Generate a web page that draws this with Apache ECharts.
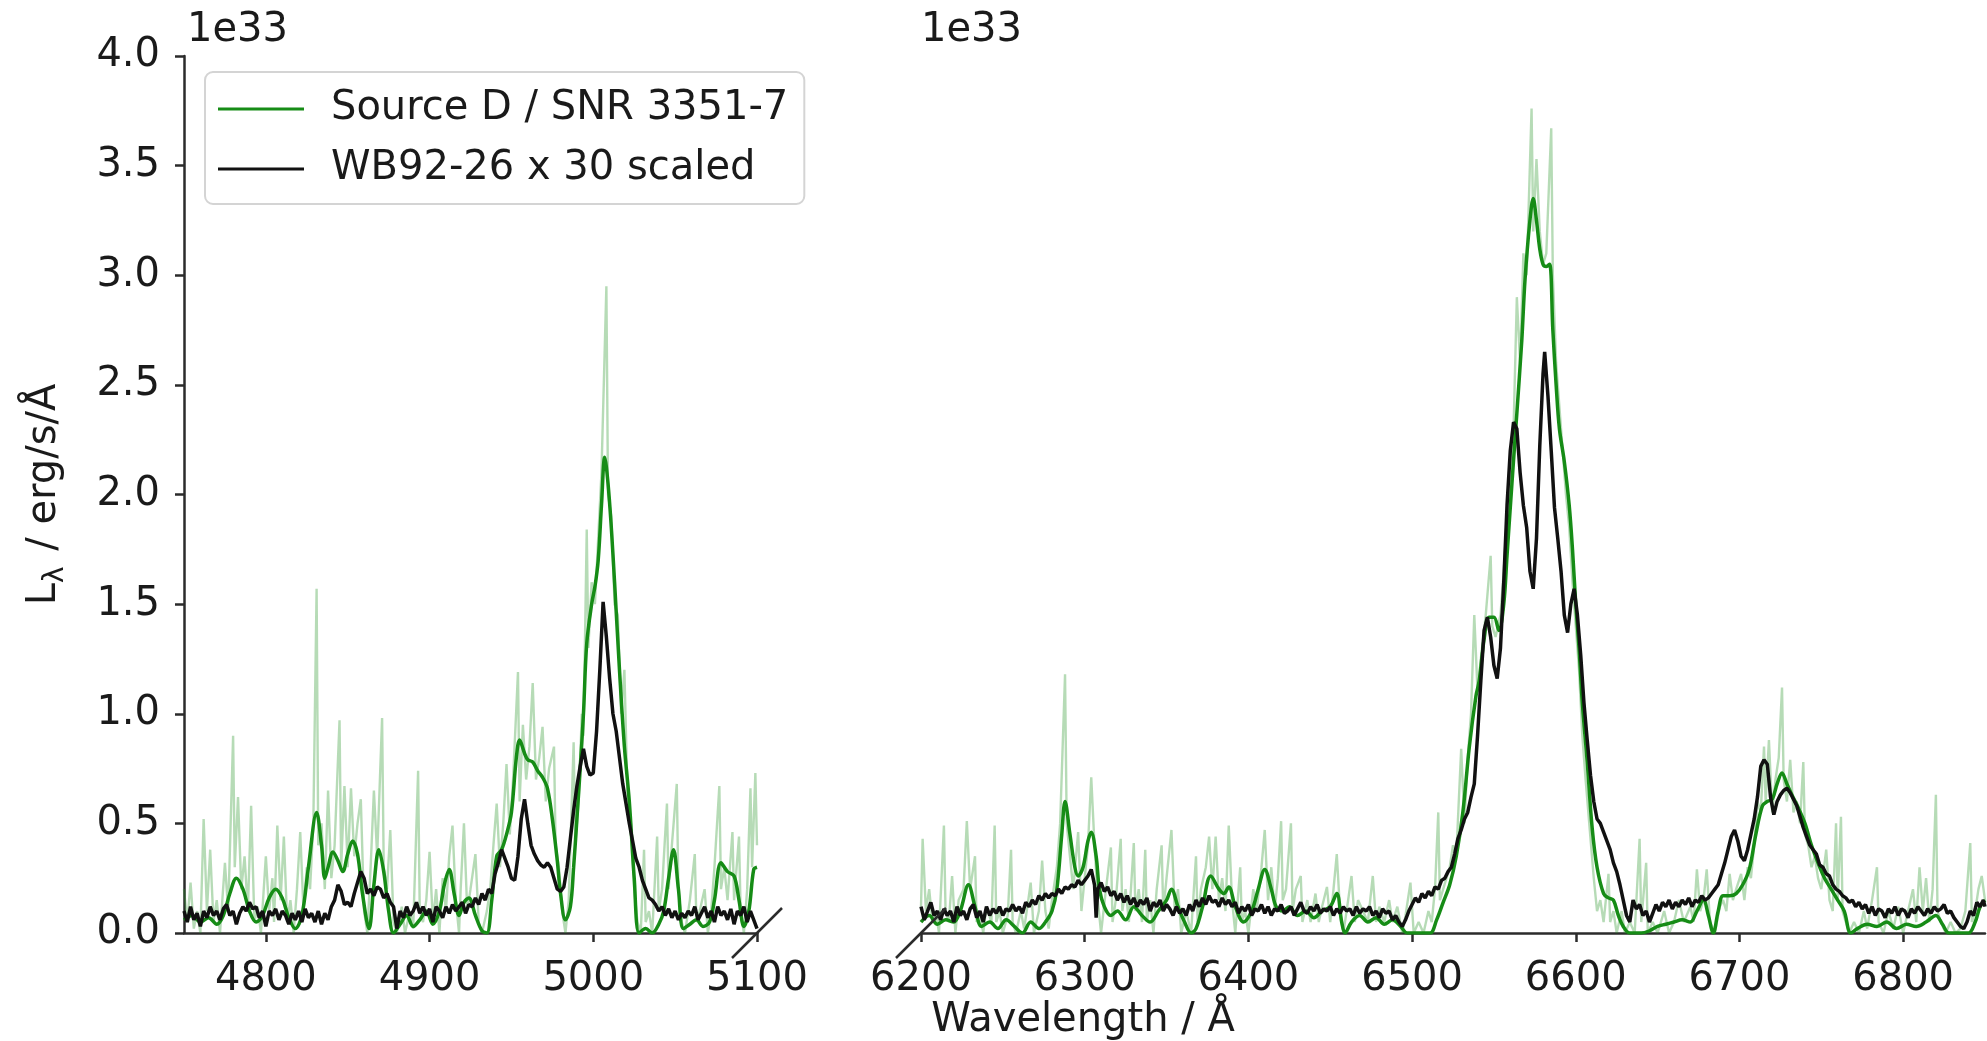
<!DOCTYPE html>
<html>
<head>
<meta charset="utf-8">
<script src="https://cdn.jsdelivr.net/npm/echarts@6.0.0/dist/echarts.min.js"></script>
<style>html,body{margin:0;padding:0;background:#fff;}#c{width:1987px;height:1041px;}</style>
</head>
<body>
<div id="c"></div>
<script>
// ---- data (luminance in units of 1e33 erg/s/Å, wavelength in Å) ----
const ticksLeft = [4800, 4900, 5000, 5100];
const ticksRight = [6200, 6300, 6400, 6500, 6600, 6700, 6800];

const rawLeft = [[4750,0.2],[4752,0.05],[4754,0.23],[4756,0.02],[4758,0.1],[4760,0.0],[4762,0.52],[4764,0.1],[4766,0.38],[4768,0.05],[4770,0.15],[4772,0.0],[4775,0.32],[4777,0.1],[4780,0.9],[4781,0.3],[4783,0.62],[4785,0.2],[4787,0.35],[4789,0.1],[4791,0.58],[4793,0.05],[4795,0.12],[4797,0.0],[4800,0.35],[4802,0.1],[4804,0.25],[4805,0.05],[4807,0.49],[4809,0.15],[4811,0.44],[4813,0.05],[4815,0.15],[4817,0.0],[4819,0.2],[4821,0.46],[4823,0.1],[4825,0.3],[4827,0.2],[4829,0.5],[4831,1.57],[4832,0.4],[4834,0.5],[4836,0.2],[4838,0.65],[4840,0.25],[4842,0.4],[4845,0.97],[4846,0.3],[4848,0.67],[4850,0.3],[4852,0.66],[4854,0.35],[4856,0.5],[4858,0.61],[4860,0.1],[4862,0.0],[4864,0.3],[4866,0.65],[4868,0.35],[4871,0.98],[4872,0.3],[4874,0.2],[4876,0.47],[4878,0.05],[4880,0.0],[4883,0.12],[4885,0.0],[4888,0.1],[4890,0.02],[4893,0.74],[4894,0.1],[4896,0.05],[4898,0.15],[4900,0.37],[4902,0.05],[4904,0.2],[4906,0.0],[4908,0.25],[4910,0.1],[4912,0.35],[4914,0.49],[4916,0.15],[4918,0.0],[4919,0.2],[4921,0.5],[4923,0.1],[4925,0.2],[4928,0.36],[4930,0.05],[4932,0.0],[4935,0.1],[4937,0.2],[4939,0.4],[4941,0.59],[4943,0.3],[4945,0.5],[4947,0.77],[4949,0.45],[4951,0.7],[4954,1.19],[4955,0.6],[4957,0.95],[4959,0.7],[4961,0.85],[4963,1.14],[4965,0.7],[4967,0.8],[4969,0.94],[4971,0.6],[4973,0.75],[4976,0.85],[4977,0.4],[4979,0.3],[4981,0.1],[4983,0.0],[4985,0.15],[4988,0.87],[4989,0.4],[4991,0.6],[4993,1.0],[4994,0.9],[4996,1.84],[4997,1.3],[4999,1.6],[5001,1.5],[5003,1.8],[5005,2.1],[5008,2.95],[5009,2.0],[5011,1.9],[5013,1.5],[5015,1.45],[5017,1.0],[5019,1.2],[5021,0.6],[5023,0.5],[5025,0.2],[5027,0.05],[5029,0.0],[5031,0.38],[5032,0.05],[5034,0.1],[5036,0.0],[5039,0.44],[5040,0.1],[5042,0.2],[5045,0.59],[5046,0.2],[5048,0.4],[5051,0.68],[5052,0.2],[5054,0.05],[5056,0.0],[5059,0.15],[5062,0.36],[5063,0.05],[5065,0.1],[5068,0.2],[5070,0.0],[5072,0.1],[5074,0.3],[5077,0.67],[5078,0.2],[5080,0.3],[5082,0.15],[5085,0.46],[5086,0.15],[5089,0.44],[5090,0.1],[5092,0.0],[5094,0.2],[5096,0.66],[5097,0.3],[5099,0.73],[5100,0.4]];

const smoothLeft = [[4750,0.06],[4755,0.08],[4760,0.05],[4765,0.07],[4770,0.04],[4774,0.08],[4778,0.18],[4782,0.25],[4786,0.2],[4790,0.1],[4794,0.05],[4798,0.08],[4802,0.16],[4806,0.2],[4810,0.16],[4814,0.07],[4818,0.02],[4822,0.08],[4826,0.3],[4831,0.55],[4834,0.4],[4836,0.25],[4838,0.3],[4841,0.37],[4844,0.33],[4847,0.28],[4850,0.36],[4853,0.42],[4856,0.36],[4859,0.18],[4863,0.02],[4866,0.22],[4869,0.38],[4872,0.28],[4875,0.1],[4878,0.0],[4882,0.04],[4886,0.08],[4890,0.03],[4894,0.06],[4898,0.1],[4902,0.04],[4906,0.1],[4909,0.22],[4912,0.29],[4915,0.18],[4918,0.08],[4921,0.14],[4924,0.16],[4928,0.08],[4932,0.01],[4935,0.0],[4938,0.15],[4941,0.35],[4944,0.38],[4947,0.45],[4950,0.55],[4953,0.8],[4955,0.88],[4958,0.82],[4960,0.79],[4963,0.78],[4966,0.74],[4969,0.71],[4972,0.66],[4975,0.52],[4978,0.33],[4980,0.18],[4983,0.06],[4986,0.12],[4988,0.3],[4990,0.52],[4992,0.75],[4994,1.0],[4996,1.32],[4999,1.5],[5001,1.58],[5003,1.7],[5005,1.95],[5007,2.17],[5009,2.05],[5011,1.85],[5013,1.6],[5016,1.2],[5019,0.85],[5022,0.6],[5025,0.25],[5028,0.0],[5032,0.02],[5036,0.0],[5040,0.04],[5043,0.1],[5046,0.25],[5049,0.38],[5052,0.2],[5055,0.02],[5059,0.04],[5063,0.06],[5067,0.03],[5071,0.05],[5074,0.15],[5078,0.32],[5082,0.28],[5086,0.26],[5089,0.15],[5092,0.03],[5095,0.1],[5098,0.29],[5100,0.3]];

const wbLeft = [[4750,0.1],[4752,0.05],[4754,0.12],[4756,0.06],[4758,0.09],[4760,0.03],[4762,0.1],[4764,0.07],[4766,0.12],[4768,0.08],[4770,0.1],[4772,0.06],[4774,0.11],[4776,0.13],[4778,0.08],[4780,0.1],[4782,0.04],[4784,0.09],[4786,0.12],[4788,0.1],[4790,0.14],[4792,0.11],[4794,0.12],[4796,0.07],[4798,0.1],[4800,0.03],[4802,0.1],[4804,0.08],[4806,0.11],[4808,0.06],[4810,0.1],[4812,0.08],[4814,0.04],[4816,0.09],[4818,0.06],[4820,0.1],[4822,0.05],[4824,0.11],[4826,0.07],[4828,0.09],[4830,0.05],[4832,0.1],[4834,0.04],[4836,0.09],[4838,0.06],[4840,0.12],[4842,0.15],[4844,0.22],[4846,0.19],[4848,0.13],[4850,0.14],[4852,0.12],[4854,0.18],[4856,0.23],[4858,0.28],[4860,0.25],[4862,0.18],[4864,0.2],[4866,0.17],[4868,0.21],[4870,0.2],[4872,0.16],[4874,0.18],[4876,0.14],[4878,0.12],[4880,0.02],[4882,0.1],[4884,0.07],[4886,0.12],[4888,0.08],[4890,0.1],[4892,0.14],[4894,0.09],[4896,0.12],[4898,0.08],[4900,0.11],[4902,0.05],[4904,0.12],[4906,0.1],[4908,0.07],[4910,0.12],[4912,0.09],[4914,0.13],[4916,0.1],[4918,0.12],[4920,0.14],[4922,0.09],[4924,0.13],[4926,0.12],[4928,0.16],[4930,0.13],[4932,0.18],[4934,0.15],[4936,0.2],[4938,0.18],[4940,0.27],[4942,0.32],[4944,0.38],[4946,0.34],[4948,0.3],[4950,0.25],[4952,0.24],[4954,0.35],[4956,0.52],[4958,0.61],[4960,0.5],[4962,0.4],[4964,0.36],[4966,0.33],[4968,0.31],[4970,0.3],[4972,0.32],[4974,0.3],[4976,0.25],[4978,0.2],[4980,0.19],[4982,0.21],[4984,0.3],[4986,0.43],[4988,0.56],[4990,0.67],[4992,0.76],[4994,0.84],[4996,0.76],[4998,0.72],[5000,0.73],[5002,0.92],[5004,1.2],[5006,1.51],[5008,1.35],[5010,1.16],[5012,1.0],[5014,0.92],[5016,0.8],[5018,0.68],[5020,0.59],[5022,0.5],[5024,0.42],[5026,0.34],[5028,0.3],[5030,0.24],[5032,0.2],[5034,0.16],[5036,0.15],[5038,0.13],[5040,0.1],[5042,0.12],[5044,0.08],[5046,0.11],[5048,0.07],[5050,0.1],[5052,0.06],[5054,0.09],[5056,0.07],[5058,0.1],[5060,0.08],[5062,0.12],[5064,0.06],[5066,0.09],[5068,0.12],[5070,0.07],[5072,0.1],[5074,0.05],[5076,0.12],[5078,0.08],[5080,0.1],[5082,0.06],[5084,0.11],[5086,0.04],[5088,0.1],[5090,0.08],[5092,0.12],[5094,0.05],[5096,0.1],[5098,0.06],[5100,0.02]];

const rawRight = [[6200,0.12],[6201,0.43],[6203,0.1],[6205,0.2],[6207,0.05],[6209,0.1],[6211,0.0],[6214,0.49],[6215,0.1],[6217,0.05],[6219,0.26],[6221,0.0],[6223,0.15],[6226,0.2],[6228,0.51],[6230,0.2],[6233,0.35],[6234,0.05],[6236,0.1],[6238,0.0],[6240,0.12],[6243,0.05],[6245,0.49],[6246,0.05],[6248,0.1],[6250,0.0],[6253,0.08],[6255,0.38],[6256,0.05],[6258,0.0],[6261,0.1],[6263,0.02],[6265,0.12],[6267,0.23],[6269,0.0],[6272,0.1],[6274,0.33],[6276,0.1],[6278,0.02],[6280,0.15],[6283,0.3],[6285,0.5],[6288,1.18],[6289,0.5],[6291,0.35],[6293,0.2],[6296,0.46],[6298,0.1],[6300,0.25],[6302,0.4],[6304,0.71],[6306,0.4],[6308,0.15],[6310,0.0],[6313,0.2],[6316,0.39],[6317,0.05],[6319,0.15],[6322,0.43],[6323,0.1],[6325,0.2],[6327,0.05],[6330,0.41],[6331,0.1],[6333,0.2],[6335,0.05],[6337,0.38],[6338,0.05],[6340,0.15],[6342,0.0],[6344,0.2],[6347,0.4],[6348,0.1],[6350,0.25],[6353,0.47],[6355,0.1],[6357,0.2],[6359,0.0],[6362,0.1],[6365,0.0],[6368,0.35],[6369,0.05],[6371,0.2],[6374,0.3],[6376,0.44],[6378,0.2],[6380,0.44],[6382,0.15],[6384,0.25],[6386,0.1],[6388,0.49],[6390,0.15],[6392,0.0],[6395,0.3],[6396,0.05],[6398,0.1],[6400,0.0],[6403,0.2],[6405,0.1],[6408,0.3],[6410,0.47],[6412,0.15],[6414,0.3],[6416,0.1],[6418,0.25],[6420,0.51],[6421,0.15],[6423,0.2],[6426,0.5],[6427,0.1],[6429,0.2],[6432,0.26],[6433,0.05],[6436,0.15],[6438,0.05],[6441,0.18],[6443,0.05],[6445,0.12],[6448,0.21],[6450,0.05],[6452,0.2],[6454,0.36],[6456,0.1],[6458,0.0],[6460,0.1],[6463,0.26],[6465,0.05],[6467,0.15],[6470,0.1],[6473,0.05],[6476,0.26],[6478,0.05],[6480,0.12],[6483,0.05],[6486,0.15],[6488,0.05],[6491,0.12],[6494,0.0],[6496,0.08],[6499,0.23],[6501,0.0],[6504,0.05],[6507,0.0],[6510,0.1],[6512,0.05],[6514,0.2],[6516,0.55],[6517,0.15],[6519,0.2],[6521,0.25],[6523,0.3],[6525,0.4],[6527,0.35],[6530,0.84],[6532,0.5],[6534,0.8],[6536,1.0],[6538,1.45],[6540,1.1],[6542,1.25],[6545,1.45],[6548,1.72],[6549,1.4],[6551,1.35],[6554,1.45],[6556,1.65],[6558,1.9],[6560,2.0],[6562,2.3],[6564,2.9],[6566,2.6],[6568,3.1],[6570,3.0],[6573,3.76],[6574,3.2],[6576,3.53],[6578,3.2],[6580,3.05],[6582,3.1],[6585,3.67],[6586,3.0],[6588,2.6],[6590,2.4],[6592,2.2],[6594,2.0],[6596,1.85],[6598,1.6],[6600,1.4],[6602,1.2],[6604,0.9],[6606,0.7],[6609,0.43],[6611,0.25],[6613,0.1],[6615,0.15],[6617,0.05],[6620,0.27],[6621,0.05],[6623,0.1],[6625,0.0],[6628,0.1],[6630,0.0],[6633,0.05],[6636,0.0],[6639,0.43],[6640,0.05],[6643,0.32],[6644,0.0],[6647,0.05],[6650,0.0],[6654,0.1],[6657,0.0],[6660,0.05],[6663,0.15],[6666,0.05],[6670,0.12],[6672,0.05],[6674,0.29],[6676,0.1],[6678,0.15],[6680,0.29],[6682,0.05],[6685,0.0],[6688,0.12],[6690,0.15],[6692,0.1],[6694,0.27],[6696,0.15],[6698,0.2],[6701,0.27],[6703,0.15],[6705,0.3],[6707,0.25],[6709,0.4],[6711,0.6],[6713,0.55],[6715,0.85],[6716,0.6],[6718,0.88],[6720,0.55],[6722,0.7],[6724,0.8],[6726,1.12],[6727,0.7],[6729,0.6],[6731,0.79],[6733,0.55],[6735,0.6],[6737,0.5],[6739,0.78],[6740,0.45],[6742,0.4],[6744,0.3],[6746,0.35],[6748,0.25],[6750,0.2],[6753,0.38],[6755,0.15],[6757,0.1],[6759,0.5],[6760,0.15],[6762,0.53],[6763,0.1],[6765,0.05],[6767,0.0],[6770,0.05],[6773,0.0],[6776,0.1],[6778,0.02],[6781,0.15],[6784,0.3],[6785,0.05],[6788,0.0],[6791,0.1],[6794,0.02],[6797,0.12],[6800,0.0],[6803,0.1],[6806,0.2],[6808,0.05],[6810,0.3],[6812,0.1],[6814,0.25],[6816,0.05],[6818,0.2],[6820,0.63],[6821,0.1],[6823,0.05],[6826,0.0],[6829,0.05],[6832,0.0],[6835,0.02],[6838,0.1],[6841,0.41],[6842,0.05],[6844,0.1],[6846,0.2],[6848,0.26],[6850,0.15]];

const smoothRight = [[6200,0.05],[6205,0.08],[6210,0.04],[6215,0.06],[6220,0.05],[6224,0.1],[6229,0.22],[6233,0.12],[6237,0.03],[6242,0.05],[6247,0.02],[6252,0.06],[6257,0.03],[6262,0.0],[6267,0.05],[6272,0.02],[6276,0.05],[6280,0.1],[6283,0.2],[6286,0.45],[6288,0.6],[6291,0.45],[6294,0.3],[6296,0.26],[6299,0.3],[6302,0.42],[6304,0.46],[6307,0.35],[6309,0.2],[6312,0.12],[6316,0.08],[6320,0.1],[6325,0.06],[6330,0.12],[6335,0.08],[6340,0.05],[6345,0.1],[6350,0.15],[6353,0.2],[6357,0.12],[6361,0.05],[6365,0.0],[6368,0.02],[6372,0.12],[6377,0.26],[6382,0.2],[6385,0.18],[6388,0.21],[6392,0.12],[6397,0.05],[6402,0.1],[6406,0.2],[6410,0.29],[6414,0.2],[6417,0.12],[6421,0.1],[6425,0.12],[6430,0.08],[6435,0.1],[6440,0.07],[6445,0.1],[6450,0.12],[6454,0.18],[6457,0.05],[6459,0.0],[6463,0.05],[6468,0.08],[6473,0.05],[6478,0.07],[6483,0.04],[6488,0.06],[6493,0.03],[6497,0.0],[6505,0.0],[6511,0.0],[6515,0.06],[6519,0.14],[6523,0.22],[6527,0.35],[6531,0.55],[6535,0.85],[6539,1.08],[6541,1.15],[6544,1.34],[6547,1.44],[6550,1.44],[6553,1.38],[6556,1.5],[6558,1.72],[6561,2.05],[6564,2.37],[6567,2.7],[6569,2.98],[6572,3.25],[6574,3.35],[6576,3.25],[6578,3.12],[6580,3.05],[6582,3.04],[6584,3.05],[6586,2.75],[6588,2.5],[6590,2.3],[6593,2.15],[6596,1.95],[6598,1.75],[6600,1.5],[6602,1.3],[6604,1.05],[6607,0.78],[6610,0.48],[6613,0.3],[6617,0.18],[6620,0.16],[6623,0.15],[6626,0.08],[6629,0.03],[6633,0.0],[6640,0.0],[6645,0.01],[6650,0.03],[6655,0.04],[6660,0.05],[6665,0.06],[6670,0.05],[6674,0.1],[6678,0.15],[6681,0.08],[6684,0.0],[6687,0.1],[6690,0.17],[6694,0.17],[6698,0.18],[6702,0.22],[6706,0.29],[6710,0.45],[6714,0.58],[6717,0.6],[6720,0.61],[6723,0.68],[6726,0.73],[6729,0.68],[6732,0.63],[6736,0.57],[6740,0.5],[6744,0.4],[6748,0.32],[6752,0.25],[6756,0.2],[6760,0.15],[6764,0.1],[6768,0.0],[6772,0.02],[6778,0.04],[6784,0.03],[6790,0.05],[6796,0.02],[6802,0.04],[6808,0.03],[6814,0.05],[6820,0.08],[6824,0.04],[6828,0.0],[6834,0.0],[6840,0.0],[6844,0.05],[6847,0.12],[6850,0.15]];

const wbRight = [[6200,0.12],[6202,0.06],[6204,0.1],[6206,0.14],[6208,0.08],[6210,0.1],[6212,0.06],[6214,0.11],[6216,0.08],[6218,0.1],[6220,0.05],[6222,0.12],[6224,0.08],[6226,0.1],[6228,0.06],[6230,0.11],[6232,0.13],[6234,0.07],[6236,0.1],[6238,0.05],[6240,0.12],[6242,0.08],[6244,0.11],[6246,0.09],[6248,0.12],[6250,0.08],[6252,0.11],[6254,0.1],[6256,0.13],[6258,0.1],[6260,0.12],[6262,0.09],[6264,0.14],[6266,0.12],[6268,0.15],[6270,0.13],[6272,0.17],[6274,0.15],[6276,0.18],[6278,0.16],[6280,0.18],[6282,0.17],[6284,0.2],[6286,0.18],[6288,0.21],[6290,0.2],[6292,0.22],[6294,0.21],[6296,0.24],[6298,0.22],[6300,0.24],[6302,0.26],[6304,0.29],[6306,0.22],[6307,0.07],[6308,0.2],[6310,0.23],[6312,0.19],[6314,0.21],[6316,0.17],[6318,0.19],[6320,0.15],[6322,0.18],[6324,0.14],[6326,0.17],[6328,0.13],[6330,0.16],[6332,0.12],[6334,0.15],[6336,0.13],[6338,0.16],[6340,0.1],[6342,0.14],[6344,0.12],[6346,0.15],[6348,0.1],[6350,0.13],[6352,0.11],[6354,0.08],[6356,0.12],[6358,0.09],[6360,0.11],[6362,0.08],[6364,0.13],[6366,0.1],[6368,0.15],[6370,0.12],[6372,0.16],[6374,0.13],[6376,0.17],[6378,0.14],[6380,0.15],[6382,0.12],[6384,0.16],[6386,0.13],[6388,0.15],[6390,0.12],[6392,0.14],[6394,0.09],[6396,0.12],[6398,0.1],[6400,0.13],[6402,0.08],[6404,0.11],[6406,0.1],[6408,0.13],[6410,0.09],[6412,0.12],[6414,0.08],[6416,0.11],[6418,0.1],[6420,0.13],[6422,0.09],[6424,0.1],[6426,0.12],[6428,0.08],[6430,0.11],[6432,0.14],[6434,0.1],[6436,0.09],[6438,0.12],[6440,0.1],[6442,0.13],[6444,0.09],[6446,0.11],[6448,0.1],[6450,0.12],[6452,0.08],[6454,0.11],[6456,0.09],[6458,0.12],[6460,0.1],[6462,0.11],[6464,0.08],[6466,0.12],[6468,0.09],[6470,0.11],[6472,0.1],[6474,0.12],[6476,0.08],[6478,0.1],[6480,0.07],[6482,0.11],[6484,0.09],[6486,0.1],[6488,0.06],[6490,0.08],[6492,0.05],[6494,0.03],[6496,0.06],[6498,0.1],[6500,0.13],[6502,0.16],[6504,0.14],[6506,0.18],[6508,0.16],[6510,0.19],[6512,0.17],[6514,0.21],[6516,0.2],[6518,0.24],[6520,0.25],[6522,0.28],[6524,0.3],[6526,0.36],[6528,0.43],[6530,0.47],[6532,0.52],[6534,0.55],[6536,0.62],[6538,0.68],[6540,0.9],[6542,1.15],[6544,1.38],[6546,1.44],[6548,1.35],[6550,1.22],[6552,1.16],[6554,1.3],[6556,1.6],[6558,1.95],[6560,2.2],[6562,2.33],[6564,2.3],[6566,2.1],[6568,1.95],[6570,1.85],[6572,1.65],[6574,1.57],[6576,1.8],[6578,2.22],[6580,2.55],[6581,2.65],[6583,2.45],[6585,2.2],[6587,1.94],[6589,1.8],[6591,1.65],[6593,1.45],[6595,1.37],[6597,1.5],[6599,1.57],[6601,1.45],[6603,1.27],[6605,1.05],[6607,0.88],[6609,0.72],[6611,0.6],[6613,0.52],[6615,0.5],[6617,0.46],[6619,0.42],[6621,0.38],[6623,0.32],[6625,0.28],[6627,0.22],[6629,0.15],[6631,0.08],[6633,0.05],[6635,0.15],[6637,0.11],[6639,0.13],[6641,0.08],[6643,0.1],[6645,0.05],[6647,0.09],[6649,0.13],[6651,0.1],[6653,0.14],[6655,0.12],[6657,0.15],[6659,0.11],[6661,0.14],[6663,0.12],[6665,0.15],[6667,0.13],[6669,0.16],[6671,0.12],[6673,0.15],[6675,0.14],[6677,0.17],[6679,0.15],[6681,0.16],[6683,0.18],[6685,0.2],[6687,0.22],[6689,0.27],[6691,0.32],[6693,0.38],[6695,0.44],[6697,0.47],[6699,0.42],[6701,0.35],[6703,0.33],[6705,0.38],[6707,0.45],[6709,0.52],[6711,0.62],[6713,0.76],[6715,0.79],[6717,0.77],[6719,0.62],[6721,0.54],[6723,0.6],[6725,0.63],[6727,0.65],[6729,0.66],[6731,0.64],[6733,0.61],[6735,0.58],[6737,0.53],[6739,0.48],[6741,0.44],[6743,0.4],[6745,0.38],[6747,0.36],[6749,0.31],[6751,0.3],[6753,0.27],[6755,0.26],[6757,0.22],[6759,0.2],[6761,0.19],[6763,0.17],[6765,0.16],[6767,0.14],[6769,0.15],[6771,0.12],[6773,0.14],[6775,0.11],[6777,0.13],[6779,0.09],[6781,0.12],[6783,0.08],[6785,0.11],[6787,0.1],[6789,0.07],[6791,0.11],[6793,0.09],[6795,0.12],[6797,0.08],[6799,0.11],[6801,0.1],[6803,0.07],[6805,0.11],[6807,0.09],[6809,0.12],[6811,0.1],[6813,0.08],[6815,0.11],[6817,0.09],[6819,0.12],[6821,0.1],[6823,0.11],[6825,0.13],[6827,0.09],[6829,0.1],[6831,0.07],[6833,0.05],[6835,0.03],[6837,0.02],[6839,0.05],[6841,0.1],[6843,0.08],[6845,0.14],[6847,0.12],[6849,0.15],[6850,0.12]];

// ---- styling ----
const FONT = 'DejaVu Sans';
const FS = 40;
const TXT = '#1a1a1a';
const AX = '#2b2b2b';
const NAME_SRC = 'Source D / SNR 3351-7';
const NAME_WB = 'WB92-26 x 30 scaled';
const C_RAW = 'rgba(40,150,40,0.34)';
const C_SM = '#168c16';
const C_WB = '#111111';

const chart = echarts.init(document.getElementById('c'), null, {renderer: 'canvas'});

function xAxisCfg(grid, min, max, ticks) {
  return {
    gridIndex: grid, type: 'value', min: min, max: max,
    axisLine: {show: true, onZero: false, lineStyle: {color: AX, width: 2.5}},
    axisTick: {show: true, length: 9, lineStyle: {color: AX, width: 2.5}, customValues: ticks},
    axisLabel: {fontFamily: FONT, fontSize: FS, color: TXT, margin: 27, customValues: ticks,
      formatter: v => String(Math.round(v))},
    splitLine: {show: false}
  };
}

function lineSeries(name, data, xi, color, width, smooth, z) {
  return {
    name: name, type: 'line', xAxisIndex: xi, yAxisIndex: xi, data: data,
    showSymbol: false, symbol: 'none', smooth: smooth, clip: true,
    lineStyle: {color: color, width: width}, itemStyle: {color: color},
    z: z, silent: true
  };
}

const option = {
  animation: false,
  backgroundColor: '#ffffff',
  textStyle: {fontFamily: FONT},
  grid: [
    {left: 184, top: 56, width: 573, height: 877},
    {left: 921, top: 56, width: 1064, height: 877}
  ],
  xAxis: [
    xAxisCfg(0, 4750, 5100, ticksLeft),
    xAxisCfg(1, 6200, 6850, ticksRight)
  ],
  yAxis: [
    {
      gridIndex: 0, type: 'value', min: 0, max: 4, interval: 0.5,
      axisLine: {show: true, lineStyle: {color: AX, width: 2.5}},
      axisTick: {show: true, length: 9, lineStyle: {color: AX, width: 2.5}},
      axisLabel: {fontFamily: FONT, fontSize: FS, color: TXT, margin: 24,
        formatter: v => v.toFixed(1)},
      splitLine: {show: false},
      name: '{a|L}{s|λ}{a| / erg/s/Å}',
      nameLocation: 'middle', nameRotate: 90, nameGap: 114,
      nameTextStyle: {
        rich: {
          a: {fontFamily: FONT, fontSize: FS, color: TXT, lineHeight: 50, verticalAlign: 'middle'},
          s: {fontFamily: FONT, fontSize: 28, color: TXT, lineHeight: 50, verticalAlign: 'bottom', padding: [0, 3, 0, 0]}
        }
      }
    },
    {
      gridIndex: 1, type: 'value', min: 0, max: 4, interval: 0.5,
      axisLine: {show: false}, axisTick: {show: false}, axisLabel: {show: false},
      splitLine: {show: false}
    }
  ],
  legend: {
    data: [NAME_SRC, NAME_WB],
    orient: 'vertical', left: 205, top: 72,
    padding: [17, 16, 15, 13], itemGap: 20,
    itemWidth: 86, itemHeight: 3, icon: 'rect',
    backgroundColor: '#ffffff', borderColor: '#d4d4d4', borderWidth: 2, borderRadius: 8,
    textStyle: {fontFamily: FONT, fontSize: FS, color: TXT, padding: [0, 0, 0, 22]},
    selectedMode: false
  },
  series: [
    lineSeries('Source D raw', rawLeft, 0, C_RAW, 2.4, false, 1),
    lineSeries(NAME_SRC, smoothLeft, 0, C_SM, 3.5, 0.35, 2),
    lineSeries(NAME_WB, wbLeft, 0, C_WB, 3.5, false, 3),
    lineSeries('Source D raw', rawRight, 1, C_RAW, 2.4, false, 1),
    lineSeries(NAME_SRC, smoothRight, 1, C_SM, 3.5, 0.35, 2),
    lineSeries(NAME_WB, wbRight, 1, C_WB, 3.5, false, 3)
  ]
};
chart.setOption(option);

// exponent labels, axis-break marks and the shared x-axis title
const tlL = chart.convertToPixel({gridIndex: 0}, [4750, 4]);
const tlR = chart.convertToPixel({gridIndex: 1}, [6200, 4]);
const brL = chart.convertToPixel({gridIndex: 0}, [5100, 0]);
const brR = chart.convertToPixel({gridIndex: 1}, [6200, 0]);
const d = 25;
chart.setOption({
  graphic: [
    {type: 'text', x: tlL[0] + 3, y: tlL[1] - 5, style: {text: '1e33', fontFamily: FONT, fontSize: FS, fill: TXT, textAlign: 'left', textVerticalAlign: 'bottom'}},
    {type: 'text', x: tlR[0], y: tlR[1] - 5, style: {text: '1e33', fontFamily: FONT, fontSize: FS, fill: TXT, textAlign: 'left', textVerticalAlign: 'bottom'}},
    {type: 'line', shape: {x1: brL[0] - d, y1: brL[1] + d, x2: brL[0] + d, y2: brL[1] - d}, style: {stroke: AX, lineWidth: 2.5}, z: 10},
    {type: 'line', shape: {x1: brR[0] - d, y1: brR[1] + d, x2: brR[0] + d, y2: brR[1] - d}, style: {stroke: AX, lineWidth: 2.5}, z: 10},
    {type: 'text', x: 1083, y: 1021, style: {text: 'Wavelength / Å', fontFamily: FONT, fontSize: FS, fill: TXT, textAlign: 'center', textVerticalAlign: 'middle'}}
  ]
});
</script>
</body>
</html>
